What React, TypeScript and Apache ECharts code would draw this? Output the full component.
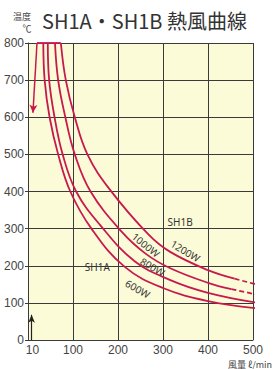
import React, { useEffect, useRef } from "react";
import * as echarts from "echarts";

// x-axis label values (風量 ℓ/min)
const xLabelValues = [10, 100, 200, 300, 400, 500];

// flat top segment at 800℃
const topFlat = [[20, 800], [73, 800]];

// SH1A
const curve600 = [[34, 800], [37, 700], [48, 600], [67, 500], [94, 400], [141, 300], [215, 197], [300, 140], [400, 105], [510, 85]];
const curve800 = [[44, 800], [47, 700], [59, 600], [77, 500], [107, 400], [160, 310], [237, 212], [315, 162], [400, 127], [510, 100]];
// SH1B (solid part + dashed extrapolation)
const curve1000 = [[60, 800], [67, 700], [83, 600], [104, 500], [139, 400], [208, 292], [262, 232], [315, 194], [400, 154], [452, 137]];
const curve1000Dash = [[452, 137], [510, 122]];
const curve1200 = [[73, 800], [84, 700], [104, 600], [132, 500], [182, 405], [267, 285], [315, 238], [400, 188], [459, 165]];
const curve1200Dash = [[459, 165], [510, 149]];

// arrows
const redArrow = [[20, 800], [11, 612]];
const blackArrow = [[8, 0], [8, 68]];

// curve annotations: text, [x, y] in data units, angle in degrees
const annoText = ["SH1A", "SH1B", "1000W", "1200W", "800W", "600W"];
const annoPos = [[154, 196], [338, 318], [262, 256], [350, 240], [277, 197], [244, 138]];
const annoAngle = [0, 0, 39, 31, 30, 29];

export default function App() {
  const ref = useRef<HTMLDivElement>(null);
  useEffect(() => {
    const chart = echarts.init(ref.current!, undefined, { renderer: "svg" });
    const red = "#c8194f";
    const ink = "#3a3a3a";
    const line = (data: number[][], dashed = false) => ({
      type: "line",
      data,
      smooth: 0.4,
      symbol: "none",
      clip: false,
      silent: true,
      lineStyle: { color: red, width: 1.8, type: dashed ? [5, 3] : "solid" },
    });
    chart.setOption({
      animation: false,
      grid: {
        left: 28,
        right: 22,
        top: 43,
        bottom: 29,
        show: true,
        backgroundColor: "#fbfbd8",
        borderWidth: 0,
        outerBoundsMode: "none",
        containLabel: false,
      },
      xAxis: {
        type: "value",
        min: 0,
        max: 500,
        interval: 100,
        axisLine: { show: true, lineStyle: { color: ink, width: 1 } },
        axisTick: { show: false },
        splitLine: { show: true, lineStyle: { color: ink, width: 1 } },
        axisLabel: {
          customValues: xLabelValues,
          color: "#444",
          fontSize: 12,
          margin: 4,
          fontFamily: "'Liberation Sans Narrow', 'Liberation Sans', sans-serif",
        },
      },
      yAxis: {
        type: "value",
        min: 0,
        max: 800,
        interval: 100,
        axisLine: { show: true, lineStyle: { color: ink, width: 1 } },
        axisTick: { show: true, length: 3, lineStyle: { color: ink } },
        splitLine: { show: true, lineStyle: { color: ink, width: 1 } },
        axisLabel: {
          color: "#444",
          fontSize: 12,
          margin: 4,
          fontFamily: "'Liberation Sans Narrow', 'Liberation Sans', sans-serif",
        },
      },
      series: [
        {
          ...line(topFlat),
          smooth: false,
          markLine: {
            silent: true,
            symbol: ["none", "arrow"],
            symbolSize: [6, 8],
            label: { show: false },
            lineStyle: { color: red, width: 1.5, type: "solid" },
            data: [[{ coord: redArrow[0] }, { coord: redArrow[1] }]],
          },
        },
        {
          type: "line",
          data: [],
          markLine: {
            silent: true,
            symbol: ["none", "arrow"],
            symbolSize: [5, 8],
            label: { show: false },
            lineStyle: { color: "#222", width: 1.2, type: "solid" },
            data: [[{ coord: blackArrow[0] }, { coord: blackArrow[1] }]],
          },
        },
        line(curve600),
        line(curve800),
        line(curve1000),
        { ...line(curve1000Dash, true), smooth: false },
        line(curve1200),
        { ...line(curve1200Dash, true), smooth: false },
      ],
    });

    const graphic: any[] = annoText.map((t, i) => {
      const p = chart.convertToPixel({ gridIndex: 0 }, annoPos[i]) as number[];
      return {
        type: "text",
        x: p[0],
        y: p[1],
        rotation: (-annoAngle[i] * Math.PI) / 180,
        silent: true,
        style: {
          text: t,
          fill: "#333",
          font: "10px 'Noto Sans', sans-serif",
          align: "center",
          verticalAlign: "middle",
        },
      };
    });
    graphic.push(
      {
        type: "text",
        x: 42,
        y: 20,
        silent: true,
        style: {
          text: "SH1A・SH1B 熱風曲線",
          fill: "#333",
          font: "20px 'Noto Sans CJK JP', sans-serif",
          align: "left",
          verticalAlign: "middle",
        },
      },
      {
        type: "text",
        x: 22,
        y: 16,
        silent: true,
        style: { text: "温度", fill: "#444", font: "9px 'Noto Sans CJK JP', sans-serif", align: "center", verticalAlign: "middle" },
      },
      {
        type: "text",
        x: 27,
        y: 28,
        silent: true,
        style: { text: "℃", fill: "#444", font: "9px 'Noto Sans CJK JP', sans-serif", align: "center", verticalAlign: "middle" },
      },
      {
        type: "text",
        x: 272,
        y: 364,
        silent: true,
        style: { text: "風量 ℓ/min", fill: "#444", font: "9px 'Noto Sans CJK JP', sans-serif", align: "right", verticalAlign: "middle" },
      }
    );
    chart.setOption({ graphic });
    return () => chart.dispose();
  }, []);
  return (
    <div
      ref={ref}
      style={{ position: "fixed", left: 0, top: 0, width: 275, height: 369, background: "#fff" }}
    />
  );
}
